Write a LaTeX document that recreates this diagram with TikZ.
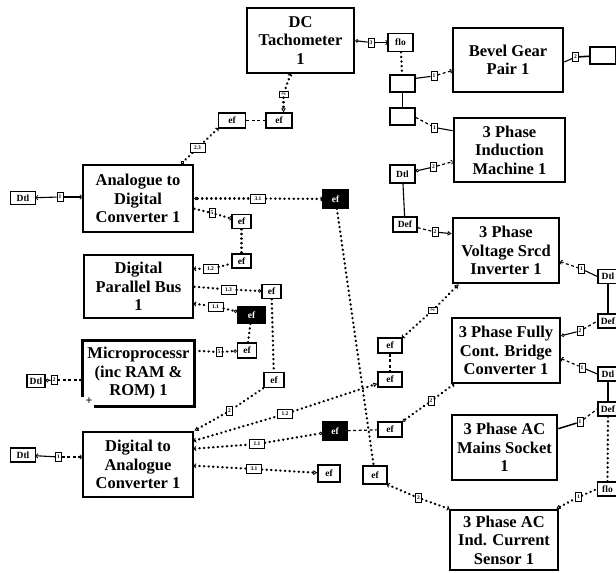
\documentclass[tikz,border=0pt]{standalone}
\usepackage{fontspec}
\setmainfont{Liberation Serif}
\usetikzlibrary{arrows.meta}
\tikzset{
  mainbox/.style={draw, line width=2.6pt, align=center, inner sep=0pt,
    font=\fontsize{16.5}{18.5}\selectfont\bfseries},
  sbox/.style={draw, line width=1.3pt, inner sep=0pt, minimum height=15pt,
    font=\fontsize{9.5}{9.5}\selectfont\bfseries},
  bbox/.style={sbox, fill=black, text=white},
  port/.style={draw, line width=0.8pt, inner sep=0.4pt, minimum width=6pt, minimum height=9pt,
    font=\fontsize{5.5}{5.5}\selectfont\bfseries},
  portw/.style={port, minimum width=15pt},
  dots/.style={line width=2.3pt, dash pattern=on 0.4pt off 4.2pt, line cap=round},
  dsh/.style={line width=1.2pt, dash pattern=on 3pt off 2.5pt},
  sol/.style={line width=1.1pt},
  ci/.tip={Circle[open,length=3.5pt,width=3.5pt,line width=0.8pt]},
  tr/.tip={Triangle[open,length=4pt,width=4.5pt,line width=0.8pt]},
  ab/.tip={Arc Barb[length=1.8pt,width=5pt,line width=0.8pt]}
}
\begin{document}
\begin{tikzpicture}[x=1pt,y=-1pt]
\useasboundingbox (0,0) rectangle (616,573);
\fill[white] (0,0) rectangle (616,573);
\clip (0,0) rectangle (616,573);

% ---------------- main boxes
\node[mainbox, minimum width=107pt, minimum height=65pt] (tach) at (300.5,40.5) {DC\\Tachometer\\1};
\node[mainbox, minimum width=110pt, minimum height=64pt] (bevel) at (508,60) {Bevel Gear\\Pair 1};
\node[mainbox, minimum width=111pt, minimum height=64pt] (induct) at (509.5,150) {3 Phase\\Induction\\Machine 1};
\node[mainbox, minimum width=110pt, minimum height=67pt] (ad) at (138,198.5) {Analogue to\\Digital\\Converter 1};
\node[mainbox, minimum width=109pt, minimum height=63pt] (dpb) at (138.5,286.5) {Digital\\Parallel Bus\\1};
\node[mainbox, draw=none, minimum width=109pt, minimum height=63pt] (micro) at (138.5,373.5) {Microprocessr\\(inc RAM \&\\ROM) 1};
\draw[line width=2.6pt] ([xshift=11pt]micro.south west) -- (micro.south east) -- (micro.north east) -- (micro.north west) -- ([yshift=9pt]micro.south west);
\node[font=\fontsize{12}{12}\selectfont\bfseries, inner sep=0pt] (plus) at (89,401) {+};
\node[mainbox, minimum width=110pt, minimum height=65pt] (da) at (138,464.5) {Digital to\\Analogue\\Converter 1};
\node[mainbox, minimum width=106pt, minimum height=65pt] (vsi) at (506,250.5) {3 Phase\\Voltage Srcd\\Inverter 1};
\node[mainbox, minimum width=108pt, minimum height=65pt] (bridge) at (506,350.5) {3 Phase Fully\\Cont. Bridge\\Converter 1};
\node[mainbox, minimum width=105pt, minimum height=65pt] (mains) at (504.5,447.5) {3 Phase AC\\Mains Socket\\1};
\node[mainbox, minimum width=108pt, minimum height=60pt] (sensor) at (504,540) {3 Phase AC\\Ind. Current\\Sensor 1};

% ---------------- small boxes
\node[sbox, minimum width=25pt, minimum height=18pt] (flo1) at (400.5,42.5) {flo};
\node[sbox, minimum width=25pt, minimum height=17pt] (e1) at (402.5,83.5) {};
\node[sbox, minimum width=25pt, minimum height=17pt] (e2) at (402.5,116.5) {};
\node[sbox, minimum width=26pt, minimum height=17pt] (e3) at (603,55.5) {};
\node[sbox, minimum width=25pt, minimum height=18pt] (dtlA) at (402.5,174) {Dtl};
\node[sbox, minimum width=24pt] (defA) at (405,224.5) {Def};
\node[sbox, minimum width=20pt, minimum height=14pt] (dtlR1) at (608,276.5) {Dtl};
\node[sbox, minimum width=20pt, minimum height=14pt] (defR1) at (608,321) {Def};
\node[sbox, minimum width=20pt, minimum height=14pt] (dtlR2) at (608,374) {Dtl};
\node[sbox, minimum width=20pt, minimum height=14pt] (defR2) at (608,409) {Def};
\node[sbox, minimum width=20pt, minimum height=14pt] (floR) at (607.5,489) {flo};
\node[sbox, minimum width=25pt, minimum height=13pt] (dtlL1) at (23,198) {Dtl};
\node[sbox, minimum width=18pt, minimum height=13pt] (dtlL2) at (36,381) {Dtl};
\node[sbox, minimum width=25pt, minimum height=14pt] (dtlL3) at (23,455) {Dtl};

\node[sbox, minimum width=27pt] (ef1) at (232,120.5) {ef};
\node[sbox, minimum width=26pt] (ef2) at (279,120.5) {ef};
\node[bbox, minimum width=25pt, minimum height=18pt] (efB1) at (335.5,199) {ef};
\node[sbox, minimum width=19pt, minimum height=14pt] (ef3) at (241.5,221.5) {ef};
\node[sbox, minimum width=19pt, minimum height=14pt] (ef4) at (241.5,261) {ef};
\node[sbox, minimum width=19pt, minimum height=14pt] (ef5) at (271.5,291.5) {ef};
\node[bbox, minimum width=27pt, minimum height=16pt] (efB2) at (251.5,315) {ef};
\node[sbox, minimum width=19pt] (ef6) at (247,350.5) {ef};
\node[sbox, minimum width=20pt] (ef7) at (274,380) {ef};
\node[sbox, minimum width=24pt] (ef8) at (390,345.5) {ef};
\node[sbox, minimum width=24pt] (ef9) at (390,379.5) {ef};
\node[bbox, minimum width=24pt, minimum height=18pt] (efB3) at (335,431) {ef};
\node[sbox, minimum width=24pt] (ef10) at (390,429.5) {ef};
\node[sbox, minimum width=22pt, minimum height=17pt] (ef11) at (329,473.5) {ef};
\node[sbox, minimum width=24pt, minimum height=18pt] (ef12) at (375,475) {ef};

% ---------------- ports
\node[port] (pT3) at (371,42.5) {3};
\node[port, rotate=90] (pT2) at (283.5,94) {2};
\node[portw] (pA23) at (197.5,148) {2.3};
\node[port] (pB1) at (434,76) {1};
\node[port] (pI1) at (434.5,127.5) {1};
\node[port] (pI2) at (433.5,167) {2};
\node[port] (pBR) at (575.5,57) {2};
\node[port] (pVL) at (435,232) {2};
\node[port] (pVR) at (581.5,269) {1};
\node[port] (pBR1) at (580,331) {2};
\node[port] (pBR2) at (582,367.5) {1};
\node[port] (pM) at (580,422) {1};
\node[port] (pS1) at (578.5,497) {1};
\node[port] (pS2) at (418.5,498) {2};
\node[port, rotate=90] (pVB) at (432.5,310.5) {2};
\node[port] (pBB) at (431,401) {2};
\node[port] (pAL) at (60,197) {1};
\node[port] (pML) at (54,380) {2};
\node[port] (pDL) at (58.5,457) {1};
\node[port] (pA5) at (212,213) {5};
\node[portw] (pA31) at (258,198.5) {3.1};
\node[portw] (pP12) at (210.5,269) {1.2};
\node[portw] (pP13) at (228.5,289.5) {1.3};
\node[portw] (pP11) at (215.5,306.5) {1.1};
\node[port] (pMR) at (219,352) {5};
\node[port] (pD2) at (229.5,411) {2};
\node[portw] (pD12) at (285,414) {1.2};
\node[portw] (pD11) at (257,444) {1.1};
\node[portw] (pD31) at (254,469) {3.1};

% ---------------- connectors: tachometer / machine cluster
\draw[sol, ci-] ([yshift=-34pt]tach.north east) -- (pT3);
\draw[sol, -ab] (pT3) -- (flo1);
\draw[dots] (flo1) -- (e1);
\draw[sol] (e1) -- (e2);
\draw[sol] ([yshift=-4pt]e1.north east) -- (pB1);
\draw[dsh, -ab] (pB1) -- ([yshift=-44pt]bevel.north west);
\draw[dsh] ([yshift=-10pt]e2.north east) -- (pI1);
\draw[sol] (pI1) -- ([yshift=-14pt]induct.north west);
\draw[sol, ci-] (dtlA) -- (pI2);
\draw[dsh, -ab] (pI2) -- ([yshift=-45pt]induct.north west);
\draw[sol] (dtlA) -- (defA);
\draw[dsh] (defA) -- (pVL);
\draw[sol, -tr] (pVL) -- ([yshift=-17pt]vsi.north west);
\draw[sol] ([yshift=-2pt]bevel.east) -- (pBR);
\draw[line width=1.6pt] (pBR) -- (e3);

% right column
\draw[dsh, ab-] ([yshift=-45pt]vsi.north east) -- (pVR);
\draw[sol] (pVR) -- (dtlR1.west);
\draw[sol] (dtlR1.south) -- (defR1.north);
\draw[sol, ci-] ([yshift=-19pt]bridge.north east) -- (pBR1);
\draw[dsh] (pBR1) -- (defR1.west);
\draw[dsh, ab-] ([yshift=-42pt]bridge.north east) -- (pBR2);
\draw[sol] (pBR2) -- (dtlR2.west);
\draw[sol] (dtlR2.south) -- (defR2.north);
\draw[line width=1.5pt] ([yshift=-15pt]mains.north east) -- (pM);
\draw[dsh] (pM) -- (defR2.west);
\draw[dots] (defR2.south) -- (floR.north);
\draw[dots, tr-] ([xshift=-3pt]sensor.north east) -- (pS1);
\draw[dots] (pS1) -- (floR.west);

% left column
\draw[sol, ab-] (dtlL1) -- (pAL);
\draw[sol, -ab] (pAL) -- (ad.west |- pAL);
\draw[sol, ci-] (dtlL2) -- (pML);
\draw[dsh, -ab] (pML) -- (micro.west |- pML);
\draw[sol, ab-] (dtlL3) -- (pDL);
\draw[dsh, -ab] (pDL) -- (da.west |- pDL);

% A/D upper
\draw[dots, ab-] ([xshift=-10pt]tach.south) -- (pT2);
\draw[dots, -tr] (pT2) -- (ef2.north -| pT2);
\draw[dsh] (ef1) -- (ef2);
\draw[dots, ab-] (ef1.south west) -- (pA23);
\draw[dots, -ci] (pA23) -- ([xshift=-13pt]ad.north east);

% A/D, bus, microprocessor right
\draw[dots, ci-] (ad.east) -- (pA31);
\draw[dots, -ab] (pA31) -- (efB1);
\draw[dots] ([yshift=-45pt]ad.north east) -- (pA5);
\draw[dots, -ab] (pA5) -- (ef3);
\draw[dots] (ef3) -- (ef4);
\draw[dots, ab-] ([yshift=-15pt]dpb.north east) -- (pP12);
\draw[dots] (pP12) -- (ef4);
\draw[dots] ([yshift=-33pt]dpb.north east) -- (pP13);
\draw[dots, -ci] (pP13) -- (ef5);
\draw[dots, ab-] ([yshift=-50pt]dpb.north east) -- (pP11);
\draw[dots, -ci] (pP11) -- (efB2);
\draw[dots] (efB2) -- (ef6);
\draw[dots, ab-] ([yshift=-10pt]micro.north east) -- (pMR);
\draw[dots, -ci] (pMR) -- (ef6);
\draw[dots] (ef5) -- (ef7);
\draw[dots] (ef7.south west) -- (pD2);
\draw[dots, -tr] (pD2) -- (da.north east);

% D/A right
\draw[dots, ab-] ([yshift=-10pt]da.north east) -- (pD12);
\draw[dots, -tr] (pD12) -- (ef9);
\draw[dots, ab-] ([yshift=-18pt]da.north east) -- (pD11);
\draw[dots, -ci] (pD11) -- (efB3);
\draw[dsh] (efB3) -- (ef10);
\draw[dots, ab-] ([yshift=-35pt]da.north east) -- (pD31);
\draw[dots, -tr] (pD31) -- (ef11);
\draw[dsh] (ef8) -- (ef9);
\draw[dots, ab-] (ef8.north east) -- (pVB);
\draw[dots, -tr] (pVB) -- ([xshift=7pt]vsi.south west);
\draw[dots, ci-] (ef10.north east) -- (pBB);
\draw[dots, -ab] (pBB) -- ([xshift=3pt]bridge.south west);
\draw[dots] (efB1) -- (ef12);
\draw[dots, ab-] (ef12.south east) -- (pS2);
\draw[dots, -ab] (pS2) -- (sensor.north west);
\end{tikzpicture}
\end{document}
